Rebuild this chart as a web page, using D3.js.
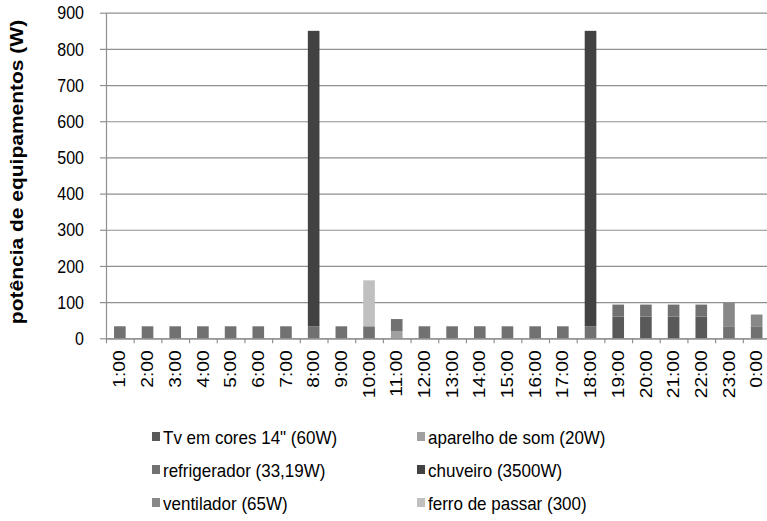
<!DOCTYPE html>
<html>
<head>
<meta charset="utf-8">
<script src="https://cdn.jsdelivr.net/npm/d3@7"></script>
<style>
  html, body { margin: 0; padding: 0; background: #fff; }
  svg { display: block; font-family: "Liberation Sans", Arial, sans-serif; }
</style>
</head>
<body>
<svg id="chart" width="767" height="521"></svg>
<script>
// Hours of the day (x categories)
const hours = ["1:00","2:00","3:00","4:00","5:00","6:00","7:00","8:00","9:00","10:00","11:00","12:00",
               "13:00","14:00","15:00","16:00","17:00","18:00","19:00","20:00","21:00","22:00","23:00","0:00"];

// Power per appliance for each hour (W), stacked in this order
const tv         = [0,0,0,0,0,0,0,0,0,0,0,0,0,0,0,0,0,0,60,60,60,60,0,0];
const som        = [0,0,0,0,0,0,0,0,0,0,20,0,0,0,0,0,0,0,0,0,0,0,0,0];
const refrig     = [33.19,33.19,33.19,33.19,33.19,33.19,33.19,33.19,33.19,33.19,33.19,33.19,
                    33.19,33.19,33.19,33.19,33.19,33.19,33.19,33.19,33.19,33.19,33.19,33.19];
const chuveiro   = [0,0,0,0,0,0,0,816.67,0,0,0,0,0,0,0,0,0,816.67,0,0,0,0,0,0];
const ventilador = [0,0,0,0,0,0,0,0,0,0,0,0,0,0,0,0,0,0,0,0,0,0,65,32.5];
const ferro      = [0,0,0,0,0,0,0,0,0,127,0,0,0,0,0,0,0,0,0,0,0,0,0,0];

const seriesNames  = ["Tv em cores 14\" (60W)", "aparelho de som (20W)", "refrigerador (33,19W)",
                      "chuveiro (3500W)", "ventilador (65W)", "ferro de passar (300)"];
const seriesValues = [tv, som, refrig, chuveiro, ventilador, ferro];
const seriesColors = ["#595959", "#a0a0a0", "#717171", "#424242", "#888888", "#c0c0c0"];

const yTicks = [0,100,200,300,400,500,600,700,800,900];
const yTitle = "potência de equipamentos (W)";

// Plot area
const svg = d3.select("#chart");
const plotLeft = 106, plotRight = 770.5, plotTop = 12.7, plotBottom = 338.3;
const stretch = 1.2;   // glyphs are drawn taller than wide

const x = d3.scaleBand().domain(hours).range([plotLeft, plotRight]).paddingInner(0.58).paddingOuter(0.29);
const xEdge = d3.scaleLinear().domain([0, hours.length]).range([plotLeft, plotRight]);
const y = d3.scaleLinear().domain([0, 900]).range([plotBottom, plotTop]);

// Rows for d3.stack
const keys = seriesNames.map((_, i) => "s" + i);
const rows = hours.map((h, j) => {
  const r = { hour: h };
  keys.forEach((k, i) => r[k] = seriesValues[i][j]);
  return r;
});
const stacked = d3.stack().keys(keys)(rows);

const axisColor = "#8f8f8f";

// Horizontal gridlines
svg.append("g")
  .attr("transform", `translate(${plotLeft},0)`)
  .call(d3.axisLeft(y).tickValues(yTicks).tickSize(-(plotRight - plotLeft)).tickFormat(""))
  .call(g => g.select(".domain").remove())
  .call(g => g.selectAll("line").attr("stroke", axisColor).attr("stroke-width", 1.2));

// Stacked bars
svg.append("g").selectAll("g")
  .data(stacked)
  .join("g")
  .attr("fill", (d, i) => seriesColors[i])
  .selectAll("rect")
  .data(d => d.filter(p => p[1] - p[0] > 0))
  .join("rect")
  .attr("x", d => x(d.data.hour))
  .attr("width", x.bandwidth())
  .attr("y", d => y(d[1]))
  .attr("height", d => y(d[0]) - y(d[1]));

// Y axis
svg.append("g")
  .attr("transform", `translate(${plotLeft},0)`)
  .call(d3.axisLeft(y).tickValues(yTicks).tickSize(6).tickPadding(16).tickSizeOuter(0))
  .call(g => g.select(".domain").attr("stroke", axisColor).attr("stroke-width", 1.2))
  .call(g => g.selectAll("line").attr("stroke", axisColor).attr("stroke-width", 1.2))
  .call(g => g.selectAll("text").attr("font-size", "16px").attr("fill", "#000")
              .attr("font-family", "Liberation Sans, Arial, sans-serif")
              .attr("transform", `scale(1,${stretch})`));

// X axis line with ticks at category boundaries
svg.append("g")
  .attr("transform", `translate(0,${plotBottom})`)
  .call(d3.axisBottom(xEdge).tickValues(d3.range(0, hours.length + 1)).tickSize(5).tickSizeOuter(0).tickFormat(""))
  .call(g => g.select(".domain").attr("stroke", axisColor).attr("stroke-width", 1.2))
  .call(g => g.selectAll("line").attr("stroke", axisColor).attr("stroke-width", 1.2));

// X labels, rotated
svg.append("g")
  .attr("transform", `translate(0,${plotBottom})`)
  .call(d3.axisBottom(x).tickSize(0))
  .call(g => g.select(".domain").remove())
  .call(g => g.selectAll("text")
    .attr("font-size", "16px").attr("fill", "#000")
    .attr("font-family", "Liberation Sans, Arial, sans-serif")
    .attr("text-anchor", "end")
    .attr("transform", `rotate(-90) scale(${stretch},1)`)
    .attr("x", -10).attr("y", 0).attr("dy", "0.35em"));

// Y axis title
svg.append("text")
  .attr("transform", `translate(23,172) rotate(-90) scale(${stretch},1)`)
  .attr("text-anchor", "middle")
  .attr("font-size", "17.5px")
  .attr("font-weight", "bold")
  .attr("fill", "#000")
  .text(yTitle);

// Legend: two columns, three rows
const legendCols = [152, 417];
const legendRows = [437, 470, 503];
const legend = svg.append("g").selectAll("g")
  .data(seriesNames)
  .join("g")
  .attr("transform", (d, i) => `translate(${legendCols[i % 2]},${legendRows[Math.floor(i / 2)]})`);
legend.append("rect")
  .attr("x", 0).attr("y", -5).attr("width", 8).attr("height", 9)
  .attr("fill", (d, i) => seriesColors[i]);
legend.append("text")
  .attr("x", 11).attr("y", 0).attr("dy", "0.35em")
  .attr("font-size", "17px").attr("fill", "#000")
  .attr("transform", "scale(1,1.1)")
  .text(d => d);
</script>
</body>
</html>
